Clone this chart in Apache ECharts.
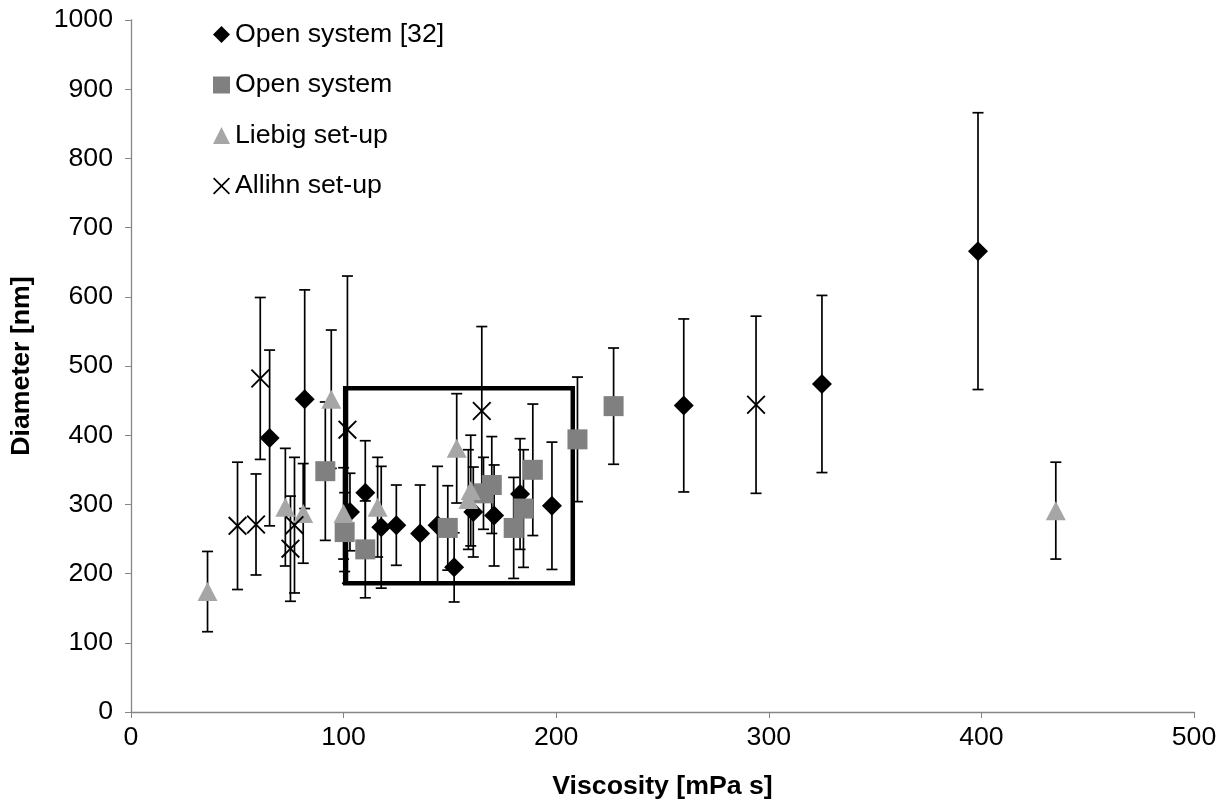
<!DOCTYPE html>
<html>
<head>
<meta charset="utf-8">
<script src="https://cdn.jsdelivr.net/npm/echarts@6/dist/echarts.min.js"></script>
<style>
html,body{margin:0;padding:0;background:#fff;}
#chart{width:1228px;height:805px;}
</style>
</head>
<body>
<div id="chart"></div>
<script>
// ---- Data (viscosity [mPa s], diameter [nm], error [nm]) ----
const seriesNames = ['Open system [32]', 'Open system', 'Liebig set-up', 'Allihn set-up'];

const viscOpen32 = [65.2, 81.7, 103, 110.2, 117.7, 124.8, 136, 144.2, 152, 161, 170.8, 183, 198, 260, 325, 398.4];
const diamOpen32 = [396, 452, 289, 317, 267, 270, 258, 270, 209, 289, 284, 315, 298, 443, 474, 666];
const errOpen32  = [127, 158, 56, 75, 88, 58, 70, 85, 50, 65, 73, 80, 92, 125, 128, 200];

const viscOpen = [91.4, 100.5, 110.2, 149, 165.8, 169.7, 180, 184.6, 189, 210, 227];
const diamOpen = [348, 260, 235, 266, 316, 328, 266, 294, 350, 394, 442];
const errOpen  = [100, 57, 70, 61, 52, 70, 73, 85, 95, 90, 84];

const viscLiebig = [36, 72.6, 81, 94.2, 100, 116, 153.2, 158.7, 159.8, 435];
const diamLiebig = [174, 296, 287, 452, 287, 296, 381, 307, 320, 291];
const errLiebig  = [58, 85, 72, 100, 66, 72, 79, 72, 80, 70];

const viscAllihn = [50.1, 58.8, 60.8, 75, 76.9, 101.8, 165, 294];
const diamAllihn = [269, 271, 482, 236, 270, 408, 435, 444];
const errAllihn  = [92, 73, 117, 76, 98, 222, 122, 128];

// highlighted region (viscosity range, diameter range)
const boxVisc = [100.75, 207.8];
const boxDiam = [186, 468];

const xTicks = [0, 100, 200, 300, 400, 500];
const yTicks = [0, 100, 200, 300, 400, 500, 600, 700, 800, 900, 1000];

// ---- Build ----
const FONT = '"Liberation Sans", Arial, sans-serif';
const FS = 26.7;
const X_PATH = 'path://M0,0.7L0.7,0L5,4.3L9.3,0L10,0.7L5.7,5L10,9.3L9.3,10L5,5.7L0.7,10L0,9.3L4.3,5Z';

function zip3(a, b, c) { return a.map((v, i) => [v, b[i], c[i]]); }

function errorBarItem(params, api) {
  const x = api.value(0), y = api.value(1), e = api.value(2);
  const top = api.coord([x, y + e]);
  const bot = api.coord([x, y - e]);
  const hw = 5.5;
  const st = { stroke: '#000', lineWidth: 1.7 };
  return {
    type: 'group',
    children: [
      { type: 'line', shape: { x1: top[0], y1: top[1], x2: bot[0], y2: bot[1] }, style: st },
      { type: 'line', shape: { x1: top[0] - hw, y1: top[1], x2: top[0] + hw, y2: top[1] }, style: st },
      { type: 'line', shape: { x1: bot[0] - hw, y1: bot[1], x2: bot[0] + hw, y2: bot[1] }, style: st }
    ]
  };
}

function boxItem(params, api) {
  const p0 = api.coord([boxVisc[0], boxDiam[1]]);
  const p1 = api.coord([boxVisc[1], boxDiam[0]]);
  return {
    type: 'rect',
    shape: { x: p0[0], y: p0[1], width: p1[0] - p0[0], height: p1[1] - p0[1] },
    style: { fill: 'none', stroke: '#000', lineWidth: 4.5 }
  };
}

const groups = [
  { name: seriesNames[0], x: viscOpen32, y: diamOpen32, e: errOpen32, symbol: 'diamond', size: 20, color: '#000000' },
  { name: seriesNames[1], x: viscOpen, y: diamOpen, e: errOpen, symbol: 'rect', size: 20, color: '#808080' },
  { name: seriesNames[2], x: viscLiebig, y: diamLiebig, e: errLiebig, symbol: 'triangle', size: [20, 19], color: '#a6a6a6' },
  { name: seriesNames[3], x: viscAllihn, y: diamAllihn, e: errAllihn, symbol: X_PATH, size: 19, color: '#000000' }
];

const series = [];
groups.forEach((g) => {
  series.push({
    type: 'custom',
    name: g.name + ' err',
    renderItem: errorBarItem,
    data: zip3(g.x, g.y, g.e),
    encode: { x: 0, y: 1 },
    z: 1,
    silent: true
  });
});
series.push({
  type: 'custom',
  name: 'box',
  renderItem: boxItem,
  data: [[boxVisc[0], boxDiam[0]]],
  encode: { x: 0, y: 1 },
  z: 2,
  silent: true
});
groups.forEach((g, i) => {
  series.push({
    type: 'scatter',
    name: g.name,
    symbol: g.symbol,
    symbolSize: g.size,
    data: g.x.map((v, k) => [v, g.y[k]]),
    itemStyle: { color: g.color, opacity: 1 },
    z: 3 + i
  });
});

const chart = echarts.init(document.getElementById('chart'), null, { renderer: 'canvas' });
chart.setOption({
  animation: false,
  backgroundColor: '#ffffff',
  textStyle: { fontFamily: FONT },
  grid: { left: 131, right: 34, top: 20, bottom: 91, containLabel: false },
  legend: {
    orient: 'vertical',
    left: 208,
    top: 16,
    itemGap: 23.5,
    itemWidth: 17,
    itemHeight: 17,
    textStyle: { fontSize: FS, color: '#000', fontFamily: FONT },
    data: [
      { name: seriesNames[0], icon: 'diamond' },
      { name: seriesNames[1], icon: 'rect' },
      { name: seriesNames[2], icon: 'triangle' },
      { name: seriesNames[3], icon: X_PATH }
    ]
  },
  xAxis: {
    type: 'value',
    min: xTicks[0],
    max: xTicks[xTicks.length - 1],
    interval: 100,
    name: 'Viscosity [mPa s]',
    nameLocation: 'middle',
    nameGap: 61,
    nameTextStyle: { fontSize: FS, fontWeight: 'bold', color: '#000', fontFamily: FONT },
    axisLine: { show: true, lineStyle: { color: '#868686', width: 1.3 } },
    axisTick: { show: true, length: 6, lineStyle: { color: '#868686' } },
    axisLabel: { fontSize: FS, color: '#000', margin: 12, fontFamily: FONT },
    splitLine: { show: false }
  },
  yAxis: {
    type: 'value',
    min: yTicks[0],
    max: yTicks[yTicks.length - 1],
    interval: 100,
    name: 'Diameter [nm]',
    nameLocation: 'middle',
    nameGap: 96,
    nameTextStyle: { fontSize: FS, fontWeight: 'bold', color: '#000', fontFamily: FONT },
    axisLine: { show: true, lineStyle: { color: '#868686', width: 1.3 } },
    axisTick: { show: true, length: 6, lineStyle: { color: '#868686' } },
    axisLabel: { fontSize: FS, color: '#000', margin: 18, fontFamily: FONT, formatter: (v) => String(v) },
    splitLine: { show: false }
  },
  series: series
});
</script>
</body>
</html>
